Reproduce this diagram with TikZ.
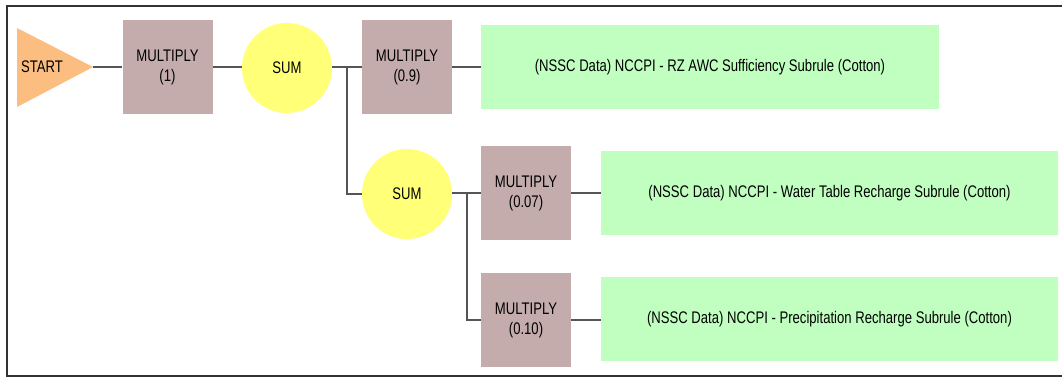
\documentclass[tikz,border=0pt]{standalone}
\usepackage{fontspec}
\setmainfont{Liberation Sans}[FakeStretch=0.78]
\usetikzlibrary{positioning}
\definecolor{mulc}{HTML}{C4ACAC}
\definecolor{sumc}{HTML}{FFFF78}
\definecolor{grnc}{HTML}{C0FFC0}
\definecolor{stc}{HTML}{FBBE80}
\definecolor{linec}{HTML}{555555}
\definecolor{framec}{HTML}{333333}
\tikzset{
  mulbox/.style={fill=mulc, draw=none, minimum width=67.5pt, minimum height=70.5pt, inner sep=0pt, align=center, font=\fontsize{12.6}{15}\selectfont},
  sumcirc/.style={circle, fill=sumc, draw=none, minimum size=67.5pt, inner sep=0pt, font=\fontsize{12.6}{15}\selectfont},
  grnbox/.style={fill=grnc, draw=none, minimum width=343pt, minimum height=63.5pt, inner sep=0pt, font=\fontsize{12.6}{15}\selectfont},
  conn/.style={draw=linec, line width=0.8pt},
  frame/.style={draw=framec, line width=1.6pt}
}
\begin{document}
\begin{tikzpicture}[x=0.75pt, y=-0.75pt]
\useasboundingbox (0,0) rectangle (1062,380);
\fill[white] (0,0) rectangle (1062,380);
\draw[frame] (1062,6) -- (7,6) -- (7,376) -- (1062,376);
% start triangle
\fill[stc] (17,28) -- (93,67) -- (17,107) -- cycle;
\node[font=\fontsize{12.6}{15}\selectfont, inner sep=0pt] (start) at (42,67) {START};
\coordinate (tip) at (93,67);
% nodes
\node[mulbox] (m1) at (167.5,67) {MULTIPLY\\(1)};
\node[sumcirc] (s1) at (287,68) {SUM};
\node[mulbox] (m09) at (407,67) {MULTIPLY\\(0.9)};
\node[grnbox] (g1) at (710,67) {(NSSC Data) NCCPI - RZ AWC Sufficiency Subrule (Cotton)};
\node[sumcirc] (s2) at (407,194) {SUM};
\node[mulbox] (m007) at (526,193) {MULTIPLY\\(0.07)};
\node[mulbox] (m010) at (526,320) {MULTIPLY\\(0.10)};
\node[grnbox] (g2) at (829.5,193) {(NSSC Data) NCCPI - Water Table Recharge Subrule (Cotton)};
\node[grnbox] (g3) at (829.5,319) {(NSSC Data) NCCPI - Precipitation Recharge Subrule (Cotton)};
\coordinate (j1) at (347,67);
\coordinate (j2) at (467,193);
% connectors
\draw[conn] (tip) -- (m1.west);
\draw[conn] (m1.east) -- (s1.west |- m1.east);
\draw[conn] (s1.east |- m09.west) -- (m09.west);
\draw[conn] (m09.east) -- (g1.west |- m09.east);
\draw[conn] (j1) |- (s2.west);
\draw[conn] (s2.east |- m007.west) -- (m007.west);
\draw[conn] (j2) |- (m010.west);
\draw[conn] (m007.east) -- (g2.west |- m007.east);
\draw[conn] (m010.east) -- (g3.west |- m010.east);
\end{tikzpicture}
\end{document}
